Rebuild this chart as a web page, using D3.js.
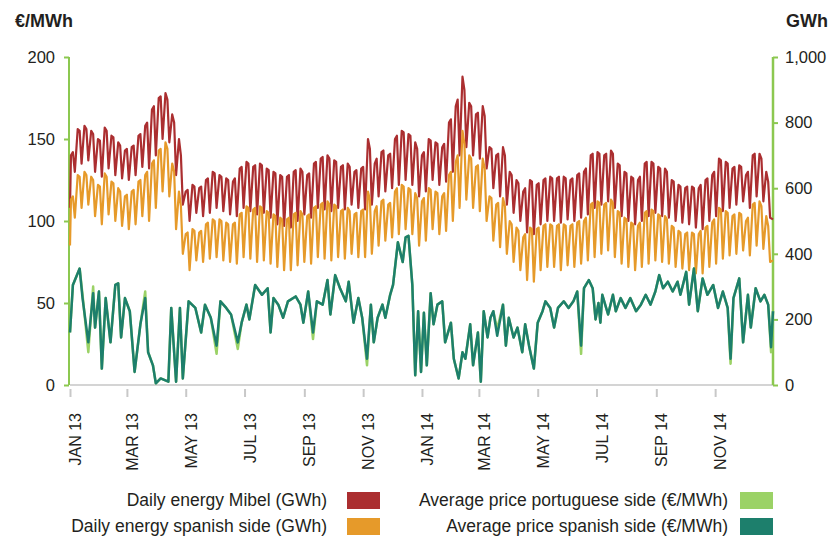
<!DOCTYPE html>
<html><head><meta charset="utf-8">
<script src="https://cdn.jsdelivr.net/npm/d3@7"></script>
<style>
body{margin:0;background:#fff}
text{font-family:"Liberation Sans",Arial,sans-serif;fill:#231f20}
</style>
</head><body>
<svg id="c" width="834" height="539"></svg>
<script>
// ---------- DATA ----------
const tickDates = ["2013-01-01","2013-03-01","2013-05-01","2013-07-01","2013-09-01","2013-11-01",
                   "2014-01-01","2014-03-01","2014-05-01","2014-07-01","2014-09-01","2014-11-01"];
const tickLabels = ["JAN 13","MAR 13","MAY 13","JUL 13","SEP 13","NOV 13",
                    "JAN 14","MAR 14","MAY 14","JUL 14","SEP 14","NOV 14"];
const priceTicks = [0,50,100,150,200];
const energyTicks = [0,200,400,600,800,1000];

// Daily energy (GWh): value on 1 Jan 2013, then per week: Wednesday, Friday and Sunday readings
const mibelStart = 540;
const spainStart = 425;
const mibelWed = [700,780,790,775,750,785,760,740,715,725,
  760,790,840,875,890,825,750,590,610,600,
  625,650,640,630,620,660,680,665,675,660,
  650,640,635,650,660,640,675,690,700,685,
  665,675,650,660,750,675,710,700,750,775,
  765,740,700,750,740,725,800,850,940,860,
  825,850,725,700,725,650,625,590,625,610,
  625,635,630,635,625,640,650,700,710,700,
  715,675,650,635,625,675,680,665,660,625,
  610,600,605,600,625,640,690,680,660,670,
  640,700,705,650,505];
const mibelFri = [710,775,780,765,745,775,755,730,720,730,
  765,800,850,880,870,800,700,595,605,605,
  630,645,635,625,630,665,675,670,670,655,
  645,635,640,655,650,645,680,695,690,680,
  670,665,655,665,720,690,715,705,760,770,
  760,720,710,745,735,735,810,870,900,850,
  830,820,720,705,700,640,615,600,620,615,
  630,630,635,630,630,645,660,705,705,705,
  705,670,645,630,635,680,675,660,650,620,
  605,605,600,610,630,650,685,675,665,665,
  650,705,690,620];
const mibelSun = [650,675,685,650,635,660,640,630,625,640,
  665,660,700,750,740,640,550,500,525,515,
  525,540,530,520,515,540,530,520,525,510,
  490,485,480,500,520,510,540,535,530,540,
  535,550,540,535,550,575,590,600,610,625,
  610,575,590,625,610,620,650,700,725,700,
  690,660,600,575,550,525,500,465,460,490,
  500,500,495,505,500,510,520,540,550,560,
  540,515,500,490,500,515,525,515,510,500,
  495,490,480,475,500,515,530,540,550,560,
  540,575,560,510];
const spainWed = [565,640,650,635,610,645,620,600,575,590,
  620,640,675,715,740,675,590,460,475,465,
  490,505,505,495,490,520,545,535,545,530,
  520,510,505,520,530,515,540,550,560,550,
  530,540,520,530,590,530,560,550,590,610,
  600,585,560,600,590,575,640,680,775,700,
  665,690,575,550,570,500,480,450,480,475,
  485,490,485,490,485,495,500,550,560,550,
  565,530,510,495,485,525,535,520,515,485,
  470,460,465,460,480,495,540,530,515,525,
  500,550,560,515,380];
const spainFri = [575,635,640,625,605,635,615,590,580,595,
  625,650,685,720,720,650,545,465,470,470,
  495,500,500,490,495,525,540,540,540,525,
  515,505,510,525,520,520,545,555,550,545,
  535,530,525,535,565,545,565,555,600,605,
  595,570,570,595,585,585,650,700,735,690,
  670,660,570,555,545,490,470,460,475,480,
  490,485,490,485,490,500,510,555,555,555,
  555,525,505,490,495,530,530,515,505,480,
  465,465,460,470,485,505,535,525,520,520,
  510,555,545,485];
const spainSun = [510,540,550,515,490,520,500,485,475,490,
  515,500,540,590,575,475,400,350,380,375,
  385,390,380,375,370,390,385,375,380,370,
  360,350,350,365,375,370,390,385,380,390,
  385,400,390,390,400,425,440,450,460,475,
  460,425,440,475,460,470,500,540,565,540,
  530,500,440,420,400,375,350,320,315,350,
  360,360,350,365,360,370,380,390,400,410,
  390,370,360,350,360,370,380,375,370,360,
  355,350,340,340,360,370,385,395,400,410,
  395,425,415,375];

// Average prices (EUR/MWh), day offset from 1 Jan 2013
const priceDays = [0,3,10,13,19,24,26,30,33,37,42,47,50,53,57,62,67,73,78,81,
  86,89,94,102,105,110,114,117,123,130,136,140,146,152,156,162,167,174,178,183,
  186,192,199,205,208,211,216,221,226,234,239,242,247,252,256,262,267,270,275,280,
  286,289,294,299,303,308,312,315,319,324,327,332,335,340,345,348,351,355,358,361,
  364,367,370,374,377,381,386,389,395,398,403,407,410,415,418,423,426,429,433,436,
  439,443,449,452,455,460,464,469,472,476,481,485,490,493,498,502,506,512,517,522,
  526,530,533,538,542,545,548,550,552,558,563,566,571,576,581,587,592,597,602,607,
  611,615,620,625,630,633,639,642,647,651,656,661,667,672,677,682,685,688,694,698,
  703,706,711,716,720,724,727,729];
const priceES = [32,61,71,53,26,56,35,57,10,53,26,61,62,29,53,45,8,37,53,20,
  12,1,4,2,47,2,47,4,51,47,32,49,41,24,51,47,43,26,38,49,
  40,61,55,59,32,53,49,41,51,54,49,38,57,32,51,49,64,43,67,59,
  51,63,38,53,41,16,49,26,41,49,41,55,61,87,75,90,91,61,6,45,
  8,44,12,56,37,49,51,26,38,16,4,20,16,37,12,32,2,45,29,41,
  45,30,49,24,41,29,35,20,37,24,10,38,45,51,47,35,47,51,47,51,
  57,24,59,64,59,40,50,38,55,43,55,45,53,47,53,45,49,55,49,57,
  67,59,63,57,63,55,69,49,71,45,65,55,61,47,57,47,16,53,65,26,
  55,35,59,51,55,49,23,45];
const pricePT = [32,61,71,55,20,60,35,57,10,53,26,61,62,29,53,45,8,37,57,20,
  12,1,4,2,47,2,47,4,51,47,32,49,41,19,51,47,43,22,38,49,
  40,61,55,59,32,53,49,41,51,54,49,38,57,28,51,49,64,43,67,59,
  51,63,38,53,41,12,49,26,41,49,41,55,61,87,75,90,91,61,6,45,
  8,44,12,56,37,49,51,26,38,16,4,20,16,37,12,32,2,45,29,41,
  45,34,49,24,41,29,35,20,37,24,10,38,45,51,47,35,47,51,47,51,
  57,19,59,64,59,40,50,38,55,43,55,45,53,47,53,45,49,55,49,57,
  67,59,63,57,63,55,69,49,71,45,65,55,61,47,57,47,13,53,65,26,
  55,35,59,51,55,49,20,45];

const legendLabels = ["Daily energy Mibel (GWh)","Daily energy spanish side (GWh)",
  "Average price portuguese side (€/MWh)","Average price spanish side (€/MWh)"];
const seriesColors = ["#ab2e30","#e69a2a","#9bd266","#1d7f6c"];

// ---------- CHART ----------
const svg = d3.select("#c");
const start = new Date(2013,0,1);
const dayOf = d => d3.timeDay.offset(start, d);
const parse = d3.timeParse("%Y-%m-%d");

const x = d3.scaleTime().domain([start, new Date(2014,11,31)]).range([70, 773]);
const yP = d3.scaleLinear().domain([0,200]).range([385,57]);
const yE = d3.scaleLinear().domain([0,1000]).range([385,57]);

function energySeries(first, wed, fri, sun){
  const pts = [{d:0, v:first}];
  wed.forEach((h,k)=>{
    pts.push({d:1+7*k, v:h});
    if (k < fri.length) pts.push({d:3+7*k, v:fri[k]});
    if (k < sun.length) pts.push({d:5+7*k, v:sun[k]});
  });
  return pts.filter(p=>p.d<=729);
}
const mibel = energySeries(mibelStart, mibelWed, mibelFri, mibelSun);
const spain = energySeries(spainStart, spainWed, spainFri, spainSun);
const pt = priceDays.map((d,i)=>({d, v:pricePT[i]}));
const es = priceDays.map((d,i)=>({d, v:priceES[i]}));

// baseline + x ticks
svg.append("line").attr("x1",70).attr("x2",773).attr("y1",385).attr("y2",385)
  .attr("stroke","#d4d4d4").attr("stroke-width",2);
const xAxis = svg.append("g").attr("transform","translate(0,389)")
  .call(d3.axisBottom(x).tickValues(tickDates.map(parse)).tickSize(8).tickFormat(""));
xAxis.select(".domain").remove();
xAxis.selectAll(".tick line").attr("stroke","#c8c8c8").attr("stroke-width",2);
xAxis.selectAll(".tick").append("text")
  .attr("transform","rotate(-90)")
  .attr("x",-24).attr("y",5).attr("dy","0.35em")
  .attr("text-anchor","end")
  .style("font-size","16px").style("fill","#231f20")
  .text((d,i)=>tickLabels[i]);

// left axis
const lAx = svg.append("g").attr("transform","translate(69,0)")
  .call(d3.axisLeft(yP).tickValues(priceTicks).tickSize(5).tickPadding(9));
lAx.select(".domain").attr("stroke","#8cc850").attr("stroke-width",2).attr("d","M0,57V385");
lAx.selectAll(".tick line").attr("stroke","#8cc850").attr("stroke-width",2);
lAx.selectAll(".tick text").style("font-size","16.5px").style("fill","#231f20").attr("font-family",null);

// right axis
const rAx = svg.append("g").attr("transform","translate(773,0)")
  .call(d3.axisRight(yE).tickValues(energyTicks).tickSize(5).tickPadding(7).tickFormat(d3.format(",")));
rAx.select(".domain").attr("stroke","#8cc850").attr("stroke-width",2.5).attr("d","M0,57V385");
rAx.selectAll(".tick line").attr("stroke","#8cc850").attr("stroke-width",2);
rAx.selectAll(".tick text").style("font-size","16.5px").style("fill","#231f20").attr("font-family",null);

// axis titles
svg.append("text").attr("x",15).attr("y",27).style("font-size","18px").style("font-weight","600").text("€/MWh");
svg.append("text").attr("x",786).attr("y",27).style("font-size","18px").style("font-weight","600").text("GWh");

// lines
const lineE = d3.line().x(p=>x(dayOf(p.d))).y(p=>yE(p.v));
const lineP = d3.line().x(p=>x(dayOf(p.d))).y(p=>yP(p.v));
[[mibel,lineE,0,2.2],[spain,lineE,1,2.2],[pt,lineP,2,2.5],[es,lineP,3,2.5]].forEach(([data,gen,ci,w])=>{
  svg.append("path").datum(data).attr("d",gen).attr("fill","none")
    .attr("stroke",seriesColors[ci]).attr("stroke-width",w).attr("stroke-linejoin","round");
});

// legend
const legPos = [{tx:327, sx:347, y:500},{tx:327, sx:347, y:526},{tx:728, sx:740, y:500},{tx:728, sx:740, y:526}];
legendLabels.forEach((label,i)=>{
  const p = legPos[i];
  svg.append("rect").attr("x",p.sx).attr("y",p.y-8).attr("width",33).attr("height",17).attr("fill",seriesColors[i]);
  svg.append("text").attr("x",p.tx).attr("y",p.y).attr("dy","0.35em").attr("text-anchor","end")
    .style("font-size","17.5px").text(label);
});
</script>
</body></html>
